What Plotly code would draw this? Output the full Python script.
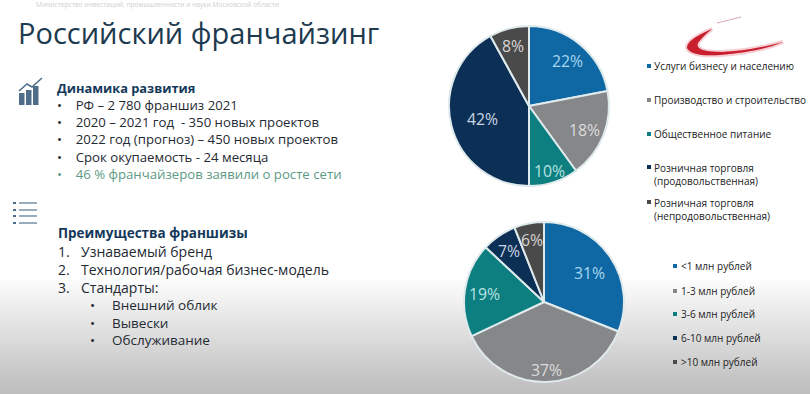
import math
import plotly.graph_objects as go

W, H = 810, 394
FONT = "Open Sans"
DARK = "#1f2a33"
GREEN = "#5d9a84"

sector_labels = ["Услуги бизнесу и населению", "Производство и строительство",
                 "Общественное питание", "Розничная торговля<br>(продовольственная)",
                 "Розничная торговля<br>(непродовольственная)"]
sector_values = [22, 18, 10, 42, 8]
invest_labels = ["<1 млн рублей", "1-3 млн рублей", "3-6 млн рублей", "6-10 млн рублей", ">10 млн рублей"]
invest_values = [31, 37, 19, 7, 6]
slice_colors = ["#0f67a3", "#858789", "#0e7f80", "#0c2f55", "#4a4a4a"]
text_colors = ["#a5d8f0", "#dcdcdc", "#b5e3e0", "#c9d6e2", "#d6d6d6"]

title = "Российский франчайзинг"
header = "Министерство инвестиций, промышленности и науки Московской области"
dyn_head = "Динамика развития"
dyn_items = ["РФ – 2 780 франшиз 2021", "2020 – 2021 год  - 350 новых проектов",
             "2022 год (прогноз) – 450 новых проектов", "Срок окупаемость - 24 месяца",
             "46 % франчайзеров заявили о росте сети"]
adv_head = "Преимущества франшизы"
adv_items = ["Узнаваемый бренд", "Технология/рабочая бизнес-модель", "Стандарты:"]
adv_sub = ["Внешний облик", "Вывески", "Обслуживание"]


def X(p):
    return p / W


def Y(p):
    return 1 - p / H


shapes, ann = [], []


def rect(x0, y0, x1, y1, color, layer="below"):
    shapes.append(dict(type="rect", xref="paper", yref="paper", x0=X(x0), x1=X(x1), y0=Y(y1), y1=Y(y0),
                       fillcolor=color, line=dict(width=0), layer=layer))


def text(x, y, s, size=14, color=DARK, bold=False, anchor="left"):
    if anchor == "left":
        x -= 2
    ann.append(dict(xref="paper", yref="paper", x=X(x), y=Y(y), text=f"<b>{s}</b>" if bold else s,
                    showarrow=False, xanchor=anchor, yanchor="middle", align="left",
                    font=dict(family=FONT, size=size, color=color)))


def path(d, **kw):
    shapes.append(dict(type="path", xref="paper", yref="paper", path=d, **kw))


def pts(cmds):
    out = []
    for c in cmds:
        out.append(c[0])
        for i in range(1, len(c), 2):
            out.append(f"{X(c[i])} {Y(c[i + 1])}")
    return " ".join(out)


def pie(vals, labels, cx, cy, r, radii):
    total = sum(vals)
    start = 0
    for v, rad, col in zip(vals, radii, text_colors):
        mid = (start + v / 2) / total * 2 * math.pi
        text(cx + rad * math.sin(mid), cy - rad * math.cos(mid) + 1.5, f"{v}%", 15.8, col, anchor="center")
        start += v
    return go.Pie(values=vals, labels=labels, sort=False, direction="clockwise", rotation=0,
                  domain=dict(x=[X(cx - r), X(cx + r)], y=[Y(cy + r), Y(cy - r)]),
                  marker=dict(colors=slice_colors, line=dict(color="#dfeaec", width=2)),
                  textinfo="none", showlegend=False, hoverinfo="label+percent")


fig = go.Figure([pie(sector_values, sector_labels, 529, 106, 80, [60, 60, 67, 48, 63]),
                 pie(invest_values, invest_labels, 544, 302, 80, [55, 67, 60, 63, 65])])

# background gradient
for y0 in range(280, 394, 3):
    t = (y0 - 280) / 114
    v = int(252 - 64 * t)
    rect(0, y0, W, H, f"rgb({v},{v},{v})")

text(36, 5, header, 6.6, "#cfcfcf")
text(18, 33, title, 29, "#1d3a4f")

# trend icon
for x0, y0 in [(19, 93), (26, 90), (33, 86)]:
    rect(x0, y0, x0 + 5.5, 105, "#4f6d8a")
path(pts([("M", 19, 91), ("L", 27, 84), ("L", 32, 87), ("L", 42, 78)]), line=dict(color="#4f6d8a", width=1.5))
# list icon
for y0 in [203, 210, 216, 223]:
    rect(13, y0 - 1, 16, y0 + 1, "#4f6d8a")
    rect(19, y0 - 0.7, 37, y0 + 0.7, "#6f8aa0")

GAP = "•" + "&nbsp;" * 4
dyn_lines = [f'<span style="color:#14385a;font-size:12.8px"><b>{dyn_head}</b></span>']
dyn_lines += [GAP + s for s in dyn_items[:-1]]
dyn_lines += [f'<span style="color:{GREEN}">{GAP}{dyn_items[-1]}</span>']
text(57, 131, "<br>".join(dyn_lines), 13.2)

text(58, 233, adv_head, 13.5, "#14385a", bold=True)
text(58, 269, "<br>".join(f"{i + 1}." for i in range(len(adv_items))), 14)
text(81, 269, "<br>".join(adv_items), 14)
text(90, 322.5, "<br>".join(["•"] * len(adv_sub)), 13.5)
text(112, 322.5, "<br>".join(adv_sub), 13.5)

for y, s, c in zip([66, 100, 134, 174, 209], sector_labels, slice_colors):
    yy = y - 7 if "<br>" in s else y
    rect(647, yy - 2, 651, yy + 2, c)
    text(654, y, s, 10, "#222222")
for y, s, c in zip([266, 291, 314, 338, 362], invest_labels, slice_colors):
    rect(673, y - 2, 677, y + 2, c)
    text(681, y, s.replace("<", "&lt;"), 10, "#222222")

# logo swoosh
swoosh = pts([("M", 712, 29), ("Q", 686, 40, 687, 48), ("Q", 692, 57, 720, 55), ("Q", 760, 52, 783, 42),
              ("Q", 750, 51, 722, 52), ("Q", 694, 52, 698, 43), ("Q", 703, 36, 712, 29)]) + " Z"
path(swoosh, fillcolor="rgba(225,70,85,0.35)", line=dict(color="rgba(225,90,105,0.3)", width=4))
path(swoosh, fillcolor="#c81e2e", line=dict(width=0))
path(pts([("M", 717, 23), ("L", 741, 17)]), line=dict(color="#d9aab0", width=1))

fig.update_layout(width=W, height=H, margin=dict(l=0, r=0, t=0, b=0), paper_bgcolor="white",
                  shapes=shapes, annotations=ann)
fig.write_html("out.html", config={"displayModeBar": False}, post_script="document.body.style.margin='0';")
